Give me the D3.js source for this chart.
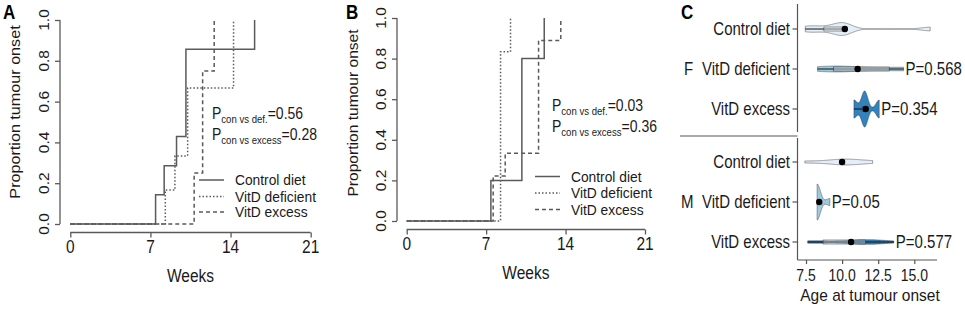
<!DOCTYPE html>
<html>
<head>
<meta charset="utf-8">
<script src="https://cdn.jsdelivr.net/npm/d3@7"></script>
<style>
  body { margin: 0; background: #fff; }
  svg { display: block; font-family: Arial, "Liberation Sans", sans-serif; }
</style>
</head>
<body>
<div id="chart"></div>
<script>
// onset week of every mouse (A = females, B = males)
const femControl = [7.45, 8.2, 9.28, 10.1, 10.1, 10.1, 16.1];
const femDeficient = [8.3, 9.14, 10.25, 10.25, 14.26, 14.26];
const femExcess = [10.82, 11.56, 11.56, 12.57];
const maleControl = [7.42, 10.15, 10.15, 10.15, 12.12];
const maleDeficient = [8.27, 8.27, 8.27, 8.27, 8.27, 9.15];
const maleExcess = [7.62, 7.62, 8.68, 11.62, 11.62, 11.62, 11.62, 11.62, 13.58];

const groups = ['Control diet', 'VitD deficient', 'VitD excess'];
const weekTicks = [0, 7, 14, 21];
const propTicks = [0, 0.2, 0.4, 0.6, 0.8, 1.0];
const ageTicks = [7.5, 10, 12.5, 15];

const pSubs = ['con vs def.', 'con vs excess'];
const pFemale = ['=0.56', '=0.28'];
const pMale = ['=0.03', '=0.36'];
const pViolinF = ['', 'P=0.568', 'P=0.354'];
const pViolinM = ['', 'P=0.05', 'P=0.577'];

const violinFill = ['#e3eef8', '#9ecae1', '#3182bd'];
const lineDash = [null, '1.5 2', '4 3'];

const W = 965, H = 310;
const SY = 1.18; // the source figure is stretched vertically
const grey = '#5a5a5a';

const svg = d3.select('#chart').append('svg')
    .attr('width', W)
    .attr('height', H);

// text helper: text goes through a small vertical stretch
function label(parent, x, y, s, size, anchor, rot, sy) {
    let g = parent.append('g')
        .attr('transform', `translate(${x},${y}) scale(1,${sy || SY})`);
    let t = g.append('text')
        .attr('font-size', size)
        .attr('text-anchor', anchor || 'start')
        .attr('fill', '#1a1a1a')
        .text(s);
    if (rot) { t.attr('transform', `rotate(${rot})`); }
    return t;
}

// Kaplan-Meier style cumulative onset panel
function onsetPanel(cfg) {
    let x = d3.scaleLinear().domain([0, 21]).range(cfg.xRange);
    let y = d3.scaleLinear().domain([0, 1]).range(cfg.yRange);
    let g = svg.append('g');

    label(g, cfg.letterX, 19, cfg.letter, 17, 'start').attr('font-weight', 'bold').attr('fill', '#000');

    // y axis, R style, offset from the data
    let yAxis = d3.axisLeft(y).tickValues(propTicks).tickSize(5);
    let ya = g.append('g').attr('transform', `translate(${cfg.yAxisX},0)`).call(yAxis);
    ya.select('.domain').attr('stroke', grey).attr('stroke-width', 1.3)
        .attr('d', `M0,${y(0)}V${y(1)}`);
    ya.selectAll('.tick line').attr('stroke', grey).attr('stroke-width', 1.3);
    ya.selectAll('.tick text').remove();
    propTicks.forEach(v => {
        label(g, cfg.yAxisX - 11, y(v), d3.format('.1f')(v), 15.5, 'middle', -90, 1);
    });
    label(g, cfg.yTitleX, cfg.yTitleY, 'Proportion tumour onset', cfg.yTitleSize, 'middle', -90, 1.13);

    let xAxis = d3.axisBottom(x).tickValues(weekTicks).tickSize(5);
    let xa = g.append('g').attr('transform', `translate(0,${cfg.xAxisY})`).call(xAxis);
    xa.select('.domain').attr('stroke', grey).attr('stroke-width', 1.3)
        .attr('d', `M${x(0)},0H${x(21)}`);
    xa.selectAll('.tick line').attr('stroke', grey).attr('stroke-width', 1.3);
    xa.selectAll('.tick text').remove();
    weekTicks.forEach(v => {
        label(g, x(v), cfg.xAxisY + 20, String(v), 15.5, 'middle');
    });
    label(g, (x(0) + x(21)) / 2, cfg.xAxisY + 49, 'Weeks', 15.5, 'middle');

    // step curves
    let line = d3.line()
        .x(d => x(d[0]))
        .y(d => y(d[1]))
        .curve(d3.curveStepAfter);
    cfg.series.forEach((times, i) => {
        let n = times.length;
        let pts = [[0, 0]];
        let uniq = Array.from(new Set(times)).sort((a, b) => a - b);
        uniq.forEach(t => {
            let k = times.filter(v => v <= t).length;
            pts.push([t, k / n]);
        });
        g.append('path')
            .attr('d', line(pts))
            .attr('fill', 'none')
            .attr('stroke', grey)
            .attr('stroke-width', 1.5)
            .attr('stroke-dasharray', lineDash[i]);
    });

    // legend
    groups.forEach((name, i) => {
        let ly = cfg.legendY[i];
        g.append('line')
            .attr('x1', cfg.legendX).attr('x2', cfg.legendX + 25)
            .attr('y1', ly).attr('y2', ly)
            .attr('stroke', grey).attr('stroke-width', 1.5)
            .attr('stroke-dasharray', lineDash[i]);
        label(g, cfg.legendX + 36, ly + 5, name, 13.8, 'start', null, 1.04);
    });

    // p-values with subscripts
    cfg.pvals.forEach((p, i) => {
        let t = label(g, cfg.pX, cfg.pY[i], '', 14, 'start');
        t.append('tspan').text('P');
        t.append('tspan').attr('font-size', 9.6).attr('dy', 3).text(pSubs[i]);
        t.append('tspan').attr('dy', -3).text(p);
    });
}

onsetPanel({
    letter: 'A', letterX: 3,
    xRange: [70.3, 310.7], yRange: [224, 20],
    yAxisX: 60, xAxisY: 232.5,
    yTitleX: 20, yTitleY: 112, yTitleSize: 14.3,
    series: [femControl, femDeficient, femExcess],
    legendX: 199, legendY: [180, 196.5, 212],
    pX: 212, pY: [119, 140], pvals: pFemale
});

onsetPanel({
    letter: 'B', letterX: 346,
    xRange: [406.7, 645], yRange: [221, 18],
    yAxisX: 397, xAxisY: 229.5,
    yTitleX: 358, yTitleY: 113, yTitleSize: 13.8,
    series: [maleControl, maleDeficient, maleExcess],
    legendX: 535, legendY: [176.5, 193, 209.5],
    pX: 552, pY: [111, 132], pvals: pMale
});

// ---- panel C: violins of onset age ----
const ageX = d3.scaleLinear().domain([7.5, 15]).range([806, 914.3]);

function bwNrd0(v) {
    let hi = d3.deviation(v);
    let s = v.slice().sort(d3.ascending);
    let iqr = d3.quantile(s, 0.75) - d3.quantile(s, 0.25);
    let lo = Math.min(hi, iqr / 1.34);
    if (!lo) { lo = hi || Math.abs(v[0]) || 1; }
    return 0.9 * lo * Math.pow(v.length, -0.2);
}

function kde(v) {
    let bw = bwNrd0(v);
    let lo = d3.min(v), hi = d3.max(v);
    let out = [];
    for (let i = 0; i < 512; i++) {
        let t = lo + (hi - lo) * i / 511;
        let d = d3.mean(v, s => Math.exp(-0.5 * ((t - s) / bw) ** 2) / (bw * Math.sqrt(2 * Math.PI)));
        out.push([t, d]);
    }
    return out;
}

const cg = svg.append('g');
label(cg, 681, 19, 'C', 17, 'start').attr('font-weight', 'bold').attr('fill', '#000');

function violinPanel(series, yRange, top, bottom, facet, pLabels) {
    let y = d3.scalePoint().domain(groups).range(yRange);
    let step = y.step();
    let dens = series.map(kde);
    let maxD = d3.max(dens, d => d3.max(d, e => e[1]));

    // axis line + ticks + labels
    cg.append('line').attr('x1', 797.5).attr('x2', 797.5).attr('y1', top).attr('y2', bottom)
        .attr('stroke', '#555').attr('stroke-width', 1.2);
    groups.forEach((name, i) => {
        cg.append('line').attr('x1', 792.5).attr('x2', 797.5)
            .attr('y1', y(name)).attr('y2', y(name))
            .attr('stroke', '#555').attr('stroke-width', 1.2);
        label(cg, 790, y(name) + 5.5, name, 15, 'end');
    });
    label(cg, facet === 'F' ? 684 : 681, y(groups[1]) + 5.5, facet, 15, 'start');

    series.forEach((v, i) => {
        let cy = y(groups[i]);
        let half = 0.45 * step;
        let area = d3.area()
            .x(d => ageX(d[0]))
            .y0(d => cy - d[1] / maxD * half)
            .y1(d => cy + d[1] / maxD * half);
        cg.append('path')
            .attr('d', area(dens[i]))
            .attr('fill', violinFill[i])
            .attr('stroke', '#444')
            .attr('stroke-width', 0.5);

        // thin box plot inside
        let s = v.slice().sort(d3.ascending);
        let q1 = d3.quantile(s, 0.25), q3 = d3.quantile(s, 0.75);
        let iqr = q3 - q1;
        let wLo = d3.min(s.filter(d => d >= q1 - 1.5 * iqr));
        let wHi = d3.max(s.filter(d => d <= q3 + 1.5 * iqr));
        cg.append('line')
            .attr('x1', ageX(wLo)).attr('x2', ageX(wHi))
            .attr('y1', cy).attr('y2', cy)
            .attr('stroke', '#111').attr('stroke-width', 1);
        cg.append('rect')
            .attr('x', ageX(q1)).attr('width', Math.max(0.5, ageX(q3) - ageX(q1)))
            .attr('y', cy - 2).attr('height', 4)
            .attr('fill', '#fff').attr('fill-opacity', 0.35)
            .attr('stroke', '#333').attr('stroke-width', 0.5);

        cg.append('circle')
            .attr('cx', ageX(d3.mean(v))).attr('cy', cy).attr('r', 3.2)
            .attr('fill', '#000');

        if (pLabels[i]) {
            label(cg, ageX(d3.max(v)) + 2, cy + 5.5, pLabels[i], 15, 'start');
        }
    });
}

violinPanel([femControl, femDeficient, femExcess], [29, 109], 4, 132, 'F', pViolinF);
violinPanel([maleControl, maleDeficient, maleExcess], [162, 242], 138, 260, 'M', pViolinM);

// facet separator
cg.append('line').attr('x1', 680).attr('x2', 797.5).attr('y1', 136).attr('y2', 136)
    .attr('stroke', '#555').attr('stroke-width', 1.2);

// x axis of C
let ca = cg.append('g').attr('transform', 'translate(0,260)')
    .call(d3.axisBottom(ageX).tickValues(ageTicks).tickSize(4));
ca.select('.domain').attr('stroke', '#555').attr('stroke-width', 1.2)
    .attr('d', 'M797.5,0H937');
ca.selectAll('.tick line').attr('stroke', '#555').attr('stroke-width', 1.2);
ca.selectAll('.tick text').remove();
ageTicks.forEach(v => {
    label(cg, ageX(v), 280.5, d3.format('.1f')(v), 14, 'middle', null, 1.12);
});
label(cg, 870, 301, 'Age at tumour onset', 15.5, 'middle', null, 1.12);
</script>
</body>
</html>
